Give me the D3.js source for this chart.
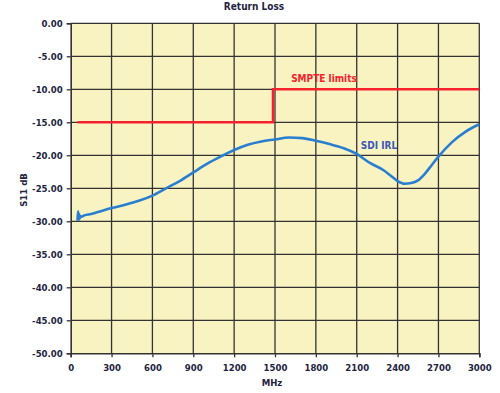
<!DOCTYPE html>
<html>
<head>
<meta charset="utf-8">
<script src="https://cdn.jsdelivr.net/npm/d3@7"></script>
<style>
  body { margin: 0; background: #fff; }
  text { font-family: "Liberation Sans Narrow", "DejaVu Sans Condensed", "Liberation Sans", sans-serif; font-weight: bold; }
</style>
</head>
<body>
<div class="canvas"></div>
<script>
// x ticks (MHz) and y ticks (dB)
const xTicks = [0, 300, 600, 900, 1200, 1500, 1800, 2100, 2400, 2700, 3000]
const yTicks = [0, -5, -10, -15, -20, -25, -30, -35, -40, -45, -50]

// SMPTE limit mask
const smpteFreq = [50, 1485, 1485, 3000]
const smpteDb = [-15, -15, -10, -10]

// measured SDI input return loss
const irlFreq = [50, 54, 58, 62, 66, 70, 80, 100, 150, 200, 300, 400, 500, 600, 700, 800, 900, 1000, 1100, 1200, 1300, 1400, 1500, 1600, 1700, 1800, 1900, 2000, 2100, 2200, 2300, 2350, 2400, 2450, 2500, 2550, 2600, 2650, 2700, 2800, 2900, 3000]
const irlDb = [-29.9, -28.5, -29.8, -28.9, -29.6, -29.2, -29.3, -29.1, -28.9, -28.6, -28.0, -27.5, -26.9, -26.1, -25.0, -23.9, -22.6, -21.3, -20.2, -19.2, -18.4, -17.9, -17.6, -17.3, -17.4, -17.8, -18.3, -18.9, -19.8, -21.2, -22.3, -23.1, -23.9, -24.3, -24.2, -23.8, -22.8, -21.5, -20.2, -18.0, -16.4, -15.3]

const W = 500, H = 393
const m = { left: 70.7, right: 20.7, top: 23.3, bottom: 39.7 }
const ink = "#23233f"

const svg = d3.select(".canvas").append("svg")
  .attr("width", W)
  .attr("height", H)

const x = d3.scaleLinear().domain([0, 3000]).range([m.left, W - m.right])
const y = d3.scaleLinear().domain([-50, 0]).range([H - m.bottom, m.top])

svg.append("rect")
  .attr("x", x(0)).attr("y", y(0))
  .attr("width", x(3000) - x(0)).attr("height", y(-50) - y(0))
  .attr("fill", "#f9f3c2")

// grid
svg.append("g").selectAll("line").data(xTicks.slice(1)).enter().append("line")
  .attr("x1", d => x(d)).attr("x2", d => x(d))
  .attr("y1", y(0)).attr("y2", y(-50))
  .attr("stroke", "#333").attr("stroke-width", 1.3)
svg.append("g").selectAll("line").data(yTicks.slice(0, -1)).enter().append("line")
  .attr("x1", x(0)).attr("x2", x(3000))
  .attr("y1", d => y(d)).attr("y2", d => y(d))
  .attr("stroke", "#333").attr("stroke-width", 1.3)

// axes
const yAxis = d3.axisLeft(y).tickValues(yTicks).tickSize(4).tickPadding(4).tickFormat(d => d.toFixed(2))
const xAxis = d3.axisBottom(x).tickValues(xTicks).tickSize(4).tickPadding(7).tickFormat(d => String(d))

const gy = svg.append("g").attr("transform", `translate(${x(0)},0)`).call(yAxis)
const gx = svg.append("g").attr("transform", `translate(0,${y(-50)})`).call(xAxis)
;[gy, gx].forEach(g => {
  g.select(".domain").attr("stroke", "#333").attr("stroke-width", 1.6)
  g.selectAll(".tick line").attr("stroke", "#333").attr("stroke-width", 1.3)
  g.selectAll("text").attr("fill", ink).attr("font-size", 9.5)
    .attr("font-family", "'Liberation Sans Narrow', 'DejaVu Sans Condensed', sans-serif")
    .attr("font-weight", "bold")
})

// SMPTE limits
const line = d3.line().x(d => x(d[0])).y(d => y(d[1]))
svg.append("path")
  .attr("d", line(d3.zip(smpteFreq, smpteDb)))
  .attr("fill", "none").attr("stroke", "#f5222e").attr("stroke-width", 2.4)

// SDI IRL
const curve = d3.line().x(d => x(d[0])).y(d => y(d[1])).curve(d3.curveMonotoneX)
svg.append("path")
  .attr("d", curve(d3.zip(irlFreq, irlDb)))
  .attr("fill", "none").attr("stroke", "#2a7ed0").attr("stroke-width", 2.6)
  .attr("stroke-linejoin", "round")

// labels
svg.append("text").attr("x", 254).attr("y", 10).attr("text-anchor", "middle")
  .attr("font-size", 10).attr("fill", ink).text("Return Loss")
svg.append("text").attr("x", 324).attr("y", 82).attr("text-anchor", "middle")
  .attr("font-size", 10).attr("fill", "#f5222e").text("SMPTE limits")
svg.append("text").attr("x", 379).attr("y", 149).attr("text-anchor", "middle")
  .attr("font-size", 10).attr("fill", "#3b58b8").text("SDI IRL")
svg.append("text").attr("x", 272).attr("y", 386).attr("text-anchor", "middle")
  .attr("font-size", 9.5).attr("fill", ink).text("MHz")
svg.append("text").attr("transform", "translate(27,190) rotate(-90)").attr("text-anchor", "middle")
  .attr("font-size", 9.5).attr("fill", ink).text("S11 dB")
</script>
</body>
</html>
